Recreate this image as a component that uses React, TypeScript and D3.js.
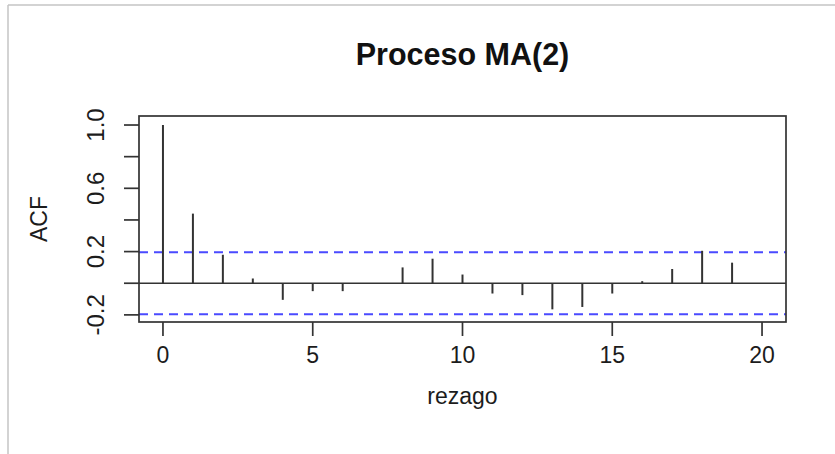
import React from "react";
import * as d3 from "d3";

// Sample autocorrelation of a simulated MA(2) series (n = 100)
const lags = [0, 1, 2, 3, 4, 5, 6, 7, 8, 9, 10, 11, 12, 13, 14, 15, 16, 17, 18, 19, 20];
const acfValues = [
  1.0, 0.44, 0.18, 0.03, -0.105, -0.05, -0.05, 0.0, 0.1, 0.155, 0.055,
  -0.065, -0.075, -0.165, -0.15, -0.065, 0.013, 0.09, 0.205, 0.13, 0.0,
];
const confBound = 0.196;
const xTicks = [0, 5, 10, 15, 20];
const yTicks = [-0.2, 0, 0.2, 0.4, 0.6, 0.8, 1.0];
const yTickLabels = ["-0.2", "0.2", "0.6", "1.0"];

const W = 835;
const H = 454;
const box = { left: 139, right: 786, top: 116, bottom: 322 };
const FONT = "'Liberation Sans', Arial, sans-serif";
const INK = "#1c1c1c";

export default function App() {
  const x = d3.scaleLinear().domain([-0.8, 20.8]).range([box.left, box.right]);
  const y = d3.scaleLinear().domain([-0.245, 1.057]).range([box.bottom, box.top]);
  const cx = (box.left + box.right) / 2;
  const cy = (box.top + box.bottom) / 2;

  return (
    <div style={{ position: "absolute", left: 0, top: 0 }}>
      <svg width={W} height={H} style={{ display: "block", background: "#fff" }}>
        {/* outer frame of the figure */}
        <line x1={8} y1={5} x2={W} y2={5} stroke="#c4c4c4" strokeWidth={1.5} />
        <line x1={8} y1={5} x2={8} y2={H} stroke="#c4c4c4" strokeWidth={1.5} />

        {/* title */}
        <text x={cx} y={65} textAnchor="middle" fontFamily={FONT} fontWeight="bold" fontSize={30.5} fill="#111">
          Proceso MA(2)
        </text>

        {/* confidence bounds */}
        {[confBound, -confBound].map((v) => (
          <line key={v} x1={box.left} x2={box.right} y1={y(v)} y2={y(v)}
            stroke="#4a4aff" strokeWidth={1.8} strokeDasharray="9,6" />
        ))}

        {/* zero line */}
        <line x1={box.left} x2={box.right} y1={y(0)} y2={y(0)} stroke="#333" strokeWidth={1.7} />

        {/* ACF spikes */}
        {lags.map((lag, i) => (
          <line key={lag} x1={x(lag)} x2={x(lag)} y1={y(0)} y2={y(acfValues[i])}
            stroke="#333" strokeWidth={2} />
        ))}

        {/* plot box */}
        <rect x={box.left} y={box.top} width={box.right - box.left} height={box.bottom - box.top}
          fill="none" stroke="#333" strokeWidth={1.7} />

        {/* x axis */}
        {xTicks.map((t) => (
          <g key={t}>
            <line x1={x(t)} x2={x(t)} y1={box.bottom} y2={box.bottom + 14} stroke="#333" strokeWidth={1.7} />
            <text x={x(t)} y={363} textAnchor="middle" fontFamily={FONT} fontSize={23} fill={INK}>
              {t}
            </text>
          </g>
        ))}
        <text x={cx} y={404} textAnchor="middle" fontFamily={FONT} fontSize={23} fill={INK}>
          rezago
        </text>

        {/* y axis */}
        {yTicks.map((t) => (
          <line key={t} x1={box.left} x2={box.left - 15} y1={y(t)} y2={y(t)} stroke="#333" strokeWidth={1.7} />
        ))}
        {yTickLabels.map((label) => (
          <text key={label} transform={`translate(104,${y(+label)}) rotate(-90)`} textAnchor="middle"
            fontFamily={FONT} fontSize={24} fill={INK}>
            {label}
          </text>
        ))}
        <text transform={`translate(47,${cy}) rotate(-90)`} textAnchor="middle" fontFamily={FONT} fontSize={23} fill={INK}>
          ACF
        </text>
      </svg>
    </div>
  );
}
